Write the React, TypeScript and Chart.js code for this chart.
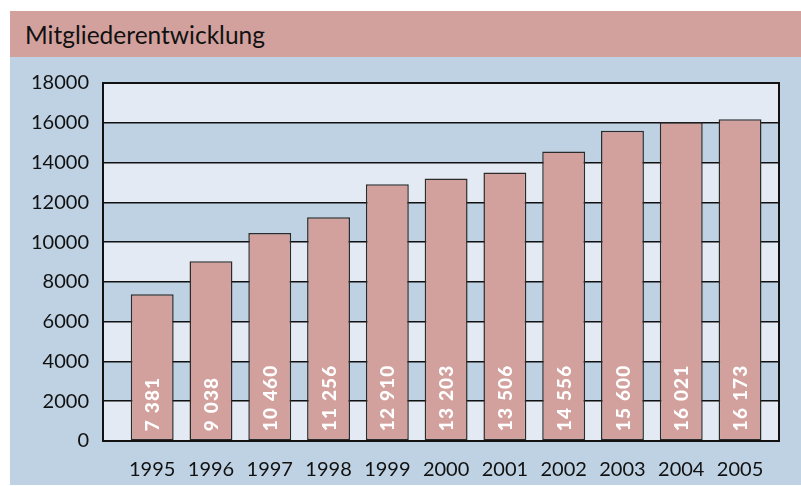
import React, { useEffect, useRef } from "react";
import { Chart, registerables } from "chart.js";

Chart.register(...registerables);

const title = "Mitgliederentwicklung";
const years = [1995, 1996, 1997, 1998, 1999, 2000, 2001, 2002, 2003, 2004, 2005];
const members = [7381, 9038, 10460, 11256, 12910, 13203, 13506, 14556, 15600, 16021, 16173];
const yTicks = [0, 2000, 4000, 6000, 8000, 10000, 12000, 14000, 16000, 18000];

const PINK = "#D3A19D";
const BLUE = "#BFD2E3";
const LIGHT = "#E3EAF3";

const fmt = (v: number) => String(v).replace(/\B(?=(\d{3})+(?!\d))/g, " ");

const bandsPlugin = {
  id: "bands",
  beforeDraw(chart: any) {
    const { ctx, chartArea, scales } = chart;
    const y = scales.y;
    ctx.save();
    for (let i = 0; i < yTicks.length - 1; i++) {
      const top = y.getPixelForValue(yTicks[i + 1]);
      const bot = y.getPixelForValue(yTicks[i]);
      ctx.fillStyle = i % 2 === 0 ? LIGHT : BLUE;
      ctx.fillRect(chartArea.left, top, chartArea.right - chartArea.left, bot - top);
    }
    ctx.restore();
  },
  afterDatasetsDraw(chart: any) {
    const { ctx, chartArea } = chart;
    const meta = chart.getDatasetMeta(0);
    ctx.save();
    ctx.fillStyle = "#ffffff";
    ctx.font = "900 19px Lato";
    (ctx as any).letterSpacing = "1.2px";
    ctx.textAlign = "left";
    ctx.textBaseline = "middle";
    meta.data.forEach((bar: any, i: number) => {
      ctx.save();
      ctx.translate(bar.x, bar.base - 9);
      ctx.rotate(-Math.PI / 2);
      ctx.fillText(fmt(members[i]), 0, 1);
      ctx.restore();
    });
    ctx.strokeStyle = "#111";
    ctx.lineWidth = 2;
    ctx.strokeRect(chartArea.left, chartArea.top, chartArea.right - chartArea.left, chartArea.bottom - chartArea.top);
    ctx.restore();
  },
};

export default function App() {
  const ref = useRef<HTMLCanvasElement>(null);
  useEffect(() => {
    if (!ref.current) return;
    const chart = new Chart(ref.current, {
      type: "bar",
      data: {
        datasets: [
          {
            data: years.map((yr, i) => ({ x: yr, y: members[i] })),
            backgroundColor: PINK,
            borderColor: "#2b2b2b",
            borderWidth: 1.5,
            borderSkipped: false,
            categoryPercentage: 1,
            barPercentage: 0.73,
          },
        ],
      },
      options: {
        animation: false,
        responsive: false,
        maintainAspectRatio: false,
        layout: { padding: { top: 23, right: 22, left: 0, bottom: 0 } },
        plugins: { legend: { display: false }, tooltip: { enabled: false }, title: { display: false } },
        scales: {
          x: {
            type: "linear",
            offset: false,
            min: 1994.163,
            max: 2005.663,
            grid: { display: false, drawTicks: false, offset: false },
            border: { display: false },
            afterBuildTicks: (s: any) => {
              s.ticks = years.map((v) => ({ value: v }));
            },
            afterFit: (s: any) => {
              s.height = 44;
            },
            ticks: {
              color: "#111",
              padding: 17,
              maxRotation: 0,
              autoSkip: false,
              font: { family: "Lato", size: 20 },
              callback: (v: any) => String(v),
            },
          },
          y: {
            min: 0,
            max: 18000,
            afterBuildTicks: (s: any) => {
              s.ticks = yTicks.map((v) => ({ value: v }));
            },
            afterFit: (s: any) => {
              s.width = 93;
            },
            grid: { color: "#111", lineWidth: 1.5, drawTicks: false },
            border: { display: false },
            ticks: {
              color: "#111",
              padding: 14,
              font: { family: "Lato", size: 20 },
              callback: (v: any) => String(v),
            },
          },
        },
      },
      plugins: [bandsPlugin],
    });
    return () => chart.destroy();
  }, []);

  return (
    <div style={{ position: "absolute", left: 10, top: 11, width: 791, height: 474, background: BLUE }}>
      <div
        style={{
          height: 46,
          background: PINK,
          fontFamily: "Lato",
          fontSize: 24.5,
          color: "#111",
          paddingLeft: 15,
          boxSizing: "border-box",
          lineHeight: "48px",
        }}
      >
        {title}
      </div>
      <canvas ref={ref} width={791} height={428} style={{ display: "block" }} />
    </div>
  );
}
